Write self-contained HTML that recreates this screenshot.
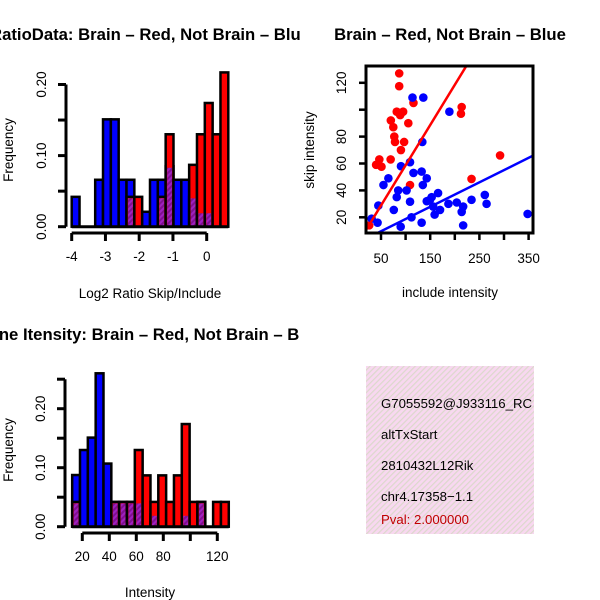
<!DOCTYPE html>
<html><head><meta charset="utf-8"><style>
html,body{margin:0;padding:0;background:#fff}
svg{display:block;font-family:"Liberation Sans",Helvetica,Arial,sans-serif}
</style></head><body>
<svg id="c" width="600" height="600" viewBox="0 0 600 600" xmlns="http://www.w3.org/2000/svg">
<defs>
<pattern id="hatchPurple" patternUnits="userSpaceOnUse" width="4" height="4" patternTransform="rotate(45)">
<rect width="4" height="4" fill="#a020c0"/><rect width="2" height="4" fill="#801090"/></pattern>
<pattern id="hatchPink" patternUnits="userSpaceOnUse" width="4" height="4" patternTransform="rotate(45)">
<rect width="4" height="4" fill="#f8d8f0"/><rect width="1.2" height="4" fill="#dcd8cc"/></pattern>
<clipPath id="clipL"><rect x="0" y="0" width="300" height="600"/></clipPath>
<clipPath id="clipScatter"><rect x="366" y="66" width="167" height="167"/></clipPath>
<clipPath id="clipInfo"><rect x="366" y="366" width="168" height="168"/></clipPath>
</defs>
<g id="g1" clip-path="url(#clipL)"></g>
<g id="g2"></g>
<g id="g3" clip-path="url(#clipL)"></g>
<g id="g4">
<rect x="366" y="366" width="168" height="168" fill="url(#hatchPink)"/>
<g clip-path="url(#clipInfo)" font-size="13.2">
<text x="381" y="408">G7055592@J933116_RC</text>
<text x="381" y="439">altTxStart</text>
<text x="381" y="470">2810432L12Rik</text>
<text x="381" y="501">chr4.17358−1.1</text>
<text x="381" y="524" fill="#c00000">Pval: 2.000000</text>
</g></g>
</svg>
<script>
// ---- Ratio histogram data (20 bins) ----
const ratioBinStart = -4;
const ratioBinWidth = 0.232;
const ratioBlue = [0.042,0,0,0.066,0.151,0.151,0.066,0.066,0,0.021,0.066,0.066,0.085,0.066,0.066,0.042,0.021,0.021,0,0];
const ratioRed  = [0,0,0,0,0,0,0,0.042,0.042,0,0,0.042,0.13,0,0,0.087,0.13,0.174,0.13,0.217];
const ratioXTicks = [-4,-3,-2,-1,0];
const ratioYTicks = [0,0.05,0.1,0.15,0.2];
const ratioYLabels = ["0.00","","0.10","","0.20"];
// ---- Intensity histogram data (20 bins) ----
const intBinStart = 12.5;
const intBinWidth = 5.8;
const intBlue = [0.0876,0.13,0.151,0.26,0.107,0.042,0.042,0.042,0.042,0,0.021,0,0,0,0.021,0,0.042,0,0,0];
const intRed  = [0.042,0,0,0,0,0.042,0.042,0.042,0.13,0.087,0.042,0.087,0.042,0.087,0.174,0.042,0.042,0,0.042,0.042];
const intXTicks = [20,40,60,80,100,120];
const intXLabels = ["20","40","60","80","","120"];
const intYTicks = [0,0.05,0.1,0.15,0.2,0.25];
const intYLabels = ["0.00","","0.10","","0.20",""];
// ---- Scatter data ----
const redX = [87,87,116,82,95,89,70,75,105.5,77,78.5,97,90.5,40,46.6,51,69.6,109,214,212.5,292,234,26];
const redY = [127,117.5,105,98.5,98.5,96,92,87,90,80,76,76,70,59,63,57.6,63,44,102,97,66,48.5,14];
const blueX = [114,136,189,134,109,116,132.6,143,90.6,65,55,135,85,82,102,109,44.6,31,43,76,90,112,132.6,149.5,156,166,159,170,187,204,217,214,217,234,261,264.6,348,153,143];
const blueY = [109,109,98.5,76,61,53,54,49,58,49,44,44,40,35,40,31.6,28.7,19,16,25.5,13,20,16,33,28,38,22,25.5,30,31,28,24,14,33,36.6,30,22.5,35,32];
const redFit = [-1.1,0.598];   // intercept, slope
const blueFit = [0.5,0.182];
const scXTicks = [50,100,150,200,250,300,350];
const scXLabels = ["50","","150","","250","","350"];
const scYTicks = [20,40,60,80,100,120];
const scYLabels = ["20","40","60","80","","120"];

const FS=13.5, TFS=16.7;
const NS="http://www.w3.org/2000/svg";
function mk(parent,tag,attrs){const e=document.createElementNS(NS,tag);for(const k in attrs)e.setAttribute(k,attrs[k]);parent.appendChild(e);return e;}
function txt(parent,x,y,s,attrs){const e=mk(parent,'text',Object.assign({x:x,y:y},attrs||{}));e.textContent=s;return e;}

function histogram(g,o){
  const sx=v=>o.x0px+(v-o.xv0)*o.pxPerX;
  const sy=v=>o.y0px-v*o.pxPerY;
  const n=o.blue.length;
  for(let i=0;i<n;i++){
    const a=o.start+i*o.width,b=a+o.width;
    const x=sx(a),w=sx(b)-sx(a);
    const bv=o.blue[i],rv=o.red[i];
    if(bv>0){const r=mk(g,'rect',{x:x,y:sy(bv),width:w,height:sy(0)-sy(bv),fill:'#0000ff',stroke:'#000','stroke-width':2.5});
      
      }
    if(rv>0){const r=mk(g,'rect',{x:x,y:sy(rv),width:w,height:sy(0)-sy(rv),fill:'#ff0000',stroke:'#000','stroke-width':2.5});
      
      }
    const m=Math.min(bv,rv);
    if(m>0){const r=mk(g,'rect',{x:x+1.5,y:sy(m)+1.5,width:w-3,height:sy(0)-sy(m)-1.5,fill:'url(#hatchPurple)'});
      
      }
  }
  const bl=mk(g,'line',{x1:sx(o.start),x2:sx(o.start+n*o.width),y1:sy(0),y2:sy(0),stroke:'#000','stroke-width':3});
  
  
  const yax=mk(g,'g',{});
  
  
  const yt=o.yTicks;
  mk(yax,'line',{x1:o.yAxisX,x2:o.yAxisX,y1:sy(yt[0]),y2:sy(yt[yt.length-1]),stroke:'#000','stroke-width':3});
  yt.forEach((v,i)=>{mk(yax,'line',{x1:o.yAxisX-8,x2:o.yAxisX,y1:sy(v),y2:sy(v),stroke:'#000','stroke-width':3});
    if(o.yLabels[i]){const t=txt(yax,0,0,o.yLabels[i],{'font-size':FS,'text-anchor':'middle',transform:`translate(${o.yAxisX-20},${sy(v)}) rotate(-90)`});
      
      }});
  const xax=mk(g,'g',{});
  
  
  const xt=o.xTicks;
  mk(xax,'line',{x1:sx(xt[0]),x2:sx(xt[xt.length-1]),y1:o.xAxisY,y2:o.xAxisY,stroke:'#000','stroke-width':3});
  xt.forEach((v,i)=>{mk(xax,'line',{x1:sx(v),x2:sx(v),y1:o.xAxisY,y2:o.xAxisY+8,stroke:'#000','stroke-width':3});
    if(o.xLabels[i]){const t=txt(xax,sx(v),o.xAxisY+28,o.xLabels[i],{'font-size':FS,'text-anchor':'middle'});
      
      }});
}

const g1=document.getElementById('g1');
histogram(g1,{start:ratioBinStart,width:ratioBinWidth,blue:ratioBlue,red:ratioRed,
  x0px:71.7,xv0:-4,pxPerX:33.75,y0px:226.7,pxPerY:711,
  yTicks:ratioYTicks,yLabels:ratioYLabels,yAxisX:66,
  xTicks:ratioXTicks,xLabels:ratioXTicks.map(String),xAxisY:233});
let t;
t=txt(g1,150,40,"RatioData: Brain – Red, Not Brain – Blue",{'font-size':TFS,'font-weight':'bold','text-anchor':'middle'});


t=txt(g1,150,298,"Log2 Ratio Skip/Include",{'font-size':FS,'text-anchor':'middle'});


t=txt(g1,0,0,"Frequency",{'font-size':FS,'text-anchor':'middle',transform:'translate(13,150) rotate(-90)'});



const g3=document.getElementById('g3');
histogram(g3,{start:intBinStart,width:intBinWidth,blue:intBlue,red:intRed,
  x0px:82.3,xv0:20,pxPerX:1.35,y0px:526.7,pxPerY:590,
  yTicks:intYTicks,yLabels:intYLabels,yAxisX:65,
  xTicks:intXTicks,xLabels:intXLabels,xAxisY:533});
t=txt(g3,150,340,"Gene Itensity: Brain – Red, Not Brain – Blue",{'font-size':TFS,'font-weight':'bold','text-anchor':'middle'});


t=txt(g3,150,597,"Intensity",{'font-size':FS,'text-anchor':'middle'});


t=txt(g3,0,0,"Frequency",{'font-size':FS,'text-anchor':'middle',transform:'translate(13,450) rotate(-90)'});



// scatter
const g2=document.getElementById('g2');
const sx=v=>381+(v-50)*0.492;
const sy=v=>217.3-(v-20)*1.345;
const pts=mk(g2,'g',{'clip-path':'url(#clipScatter)'});
redX.forEach((x,i)=>{const c=mk(pts,'circle',{cx:sx(x),cy:sy(redY[i]),r:4.3,fill:'#ff0000'});
  
  });
blueX.forEach((x,i)=>{const c=mk(pts,'circle',{cx:sx(x),cy:sy(blueY[i]),r:4.3,fill:'#0000ff'});
  
  });
const xa=0,xb=400;
let l=mk(pts,'line',{x1:sx(xa),y1:sy(redFit[0]+redFit[1]*xa),x2:sx(xb),y2:sy(redFit[0]+redFit[1]*xb),stroke:'#ff0000','stroke-width':2.5});


l=mk(pts,'line',{x1:sx(xa),y1:sy(blueFit[0]+blueFit[1]*xa),x2:sx(xb),y2:sy(blueFit[0]+blueFit[1]*xb),stroke:'#0000ff','stroke-width':2.5});


const box=mk(g2,'rect',{x:366,y:66,width:167,height:167,fill:'none',stroke:'#000','stroke-width':3});


scXTicks.forEach((v,i)=>{mk(g2,'line',{x1:sx(v),x2:sx(v),y1:233,y2:240,stroke:'#000','stroke-width':2.5});
  if(scXLabels[i]){const tt=txt(g2,sx(v),263,scXLabels[i],{'font-size':FS,'text-anchor':'middle'});
    
    }});
scYTicks.forEach((v,i)=>{mk(g2,'line',{x1:359,x2:366,y1:sy(v),y2:sy(v),stroke:'#000','stroke-width':2.5});
  if(scYLabels[i]){const tt=txt(g2,0,0,scYLabels[i],{'font-size':FS,'text-anchor':'middle',transform:`translate(346,${sy(v)}) rotate(-90)`});
    
    }});
t=txt(g2,450,40,"Brain – Red, Not Brain – Blue",{'font-size':TFS,'font-weight':'bold','text-anchor':'middle'});


t=txt(g2,450,297,"include intensity",{'font-size':FS,'text-anchor':'middle'});


t=txt(g2,0,0,"skip intensity",{'font-size':FS,'text-anchor':'middle',transform:'translate(314,150) rotate(-90)'});


</script>
</body></html>
